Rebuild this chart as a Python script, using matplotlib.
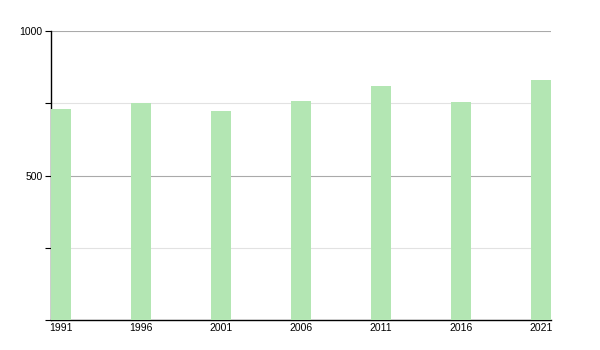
import matplotlib
matplotlib.use("Agg")
import matplotlib.pyplot as plt
from matplotlib.ticker import MultipleLocator, NullFormatter

years = ["1991", "1996", "2001", "2006", "2011", "2016", "2021"]
values = [730, 750, 723, 758, 811, 754, 830]
y_major = [500, 1000]

plt.rcParams['font.family'] = ['Liberation Sans', 'DejaVu Sans']

fig = plt.figure(figsize=(6, 3.5), dpi=100)
ax = fig.add_axes([51/600, 30/350, 500/600, 289/350])

x = list(range(len(years)))
w = 0.25
ax.bar(x, values, width=w, color='#b3e6b3', zorder=3)

ax.set_xlim(-w/2, len(years) - 1 + w/2)
ax.set_ylim(0, 1000)
ax.set_yticks(y_major)
ax.set_yticklabels([str(v) for v in y_major])
ax.yaxis.set_minor_locator(MultipleLocator(250))
ax.yaxis.set_minor_formatter(NullFormatter())
ax.set_xticks(x)
ax.set_xticklabels(years)

ax.grid(axis='y', which='major', color='#aaaaaa', linewidth=0.8, zorder=0)
ax.grid(axis='y', which='minor', color='#e2e2e2', linewidth=0.8, zorder=0)

for s in ['top', 'right']:
    ax.spines[s].set_visible(False)
ax.spines['left'].set_linewidth(1.0)
ax.spines['bottom'].set_linewidth(1.0)
ax.tick_params(axis='y', which='both', length=4, width=0.8, labelsize=7.5, pad=2)
ax.tick_params(axis='x', length=0, labelsize=7.5, pad=2)

fig.savefig("out.png", dpi=100)
